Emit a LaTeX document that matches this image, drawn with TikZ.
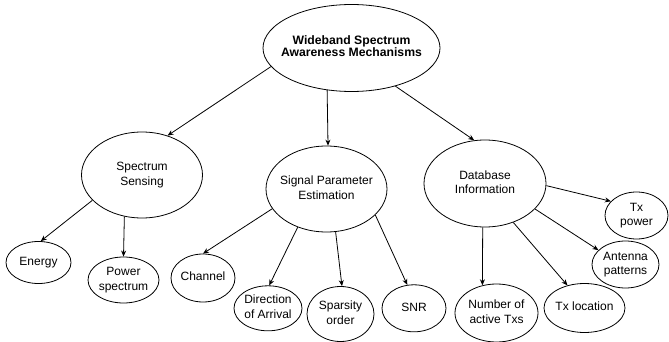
\documentclass[tikz,border=0pt]{standalone}
\usepackage{fontspec}
\setmainfont{Liberation Sans}
\usetikzlibrary{shapes.geometric,arrows.meta}
\newcommand{\lbl}[1]{\makebox[0pt]{\begin{tabular}{@{}c@{}}#1\end{tabular}}}
\tikzset{
  ell/.style={ellipse, draw, line width=0.8pt, inner sep=0pt, font=\fontsize{12}{14.5}\selectfont},
  rootell/.style={ell, font=\fontsize{12.2}{12.8}\selectfont\bfseries},
  arr/.style={line width=0.8pt, -{Stealth[length=6pt,width=5pt]}}
}
\begin{document}
\begin{tikzpicture}[x=1pt,y=-1pt]
\useasboundingbox (0,0) rectangle (669,342);
\node[rootell, minimum width=177pt, minimum height=87pt] (root) at (351.5,48) {\lbl{Wideband Spectrum\\Awareness Mechanisms}};
\node[ell, minimum width=121pt, minimum height=86pt] (ss) at (142,175) {\lbl{Spectrum\\Sensing}};
\node[ell, minimum width=121pt, minimum height=86pt] (spe) at (326.5,189) {\lbl{Signal Parameter\\Estimation}};
\node[ell, minimum width=122pt, minimum height=87pt] (db) at (485,183.5) {\lbl{Database\\Information}};
\node[ell, minimum width=65pt, minimum height=42pt] (energy) at (38.5,262.5) {\lbl{Energy}};
\node[ell, minimum width=71pt, minimum height=46pt] (ps) at (123.5,280) {\lbl{Power\\spectrum}};
\node[ell, minimum width=64pt, minimum height=48pt] (ch) at (203,278) {\lbl{Channel}};
\node[ell, minimum width=68pt, minimum height=45pt] (doa) at (268,308.3) {\lbl{Direction\\of Arrival}};
\node[ell, minimum width=67pt, minimum height=55pt] (sp) at (340.5,314) {\lbl{Sparsity\\order}};
\node[ell, minimum width=64pt, minimum height=47pt] (snr) at (414,308.3) {\lbl{SNR}};
\node[ell, minimum width=83pt, minimum height=58pt] (num) at (496.5,313) {\lbl{Number of\\active Txs}};
\node[ell, minimum width=81pt, minimum height=49pt] (txl) at (584.5,308) {\lbl{Tx location}};
\node[ell, minimum width=67pt, minimum height=47pt] (ant) at (625.5,264.5) {\lbl{Antenna\\patterns}};
\node[ell, minimum width=63pt, minimum height=47pt] (txp) at (636.5,215.5) {\lbl{Tx\\power}};
\draw[arr] (root.193) -- (ss.57);
\draw[arr] (root.240.5) -- (spe.88);
\draw[arr] (root.319) -- (db.104);
\draw[arr] (ss.207.3) -- (energy.84.4);
\draw[arr] (ss.247) -- (ps.90);
\draw[arr] (spe.200) -- (ch.90);
\draw[arr] (spe.233.8) -- (doa.87.5);
\draw[arr] (spe.282) -- (sp.87.5);
\draw[arr] (spe.332.8) -- (snr.106);
\draw[arr] (db.358.6) -- (txp.151.9);
\draw[arr] (db.333) -- (ant.152.5);
\draw[arr] (db.306.3) -- (txl.127.7);
\draw[arr] (db.267) -- (num.117);
\end{tikzpicture}
\end{document}
